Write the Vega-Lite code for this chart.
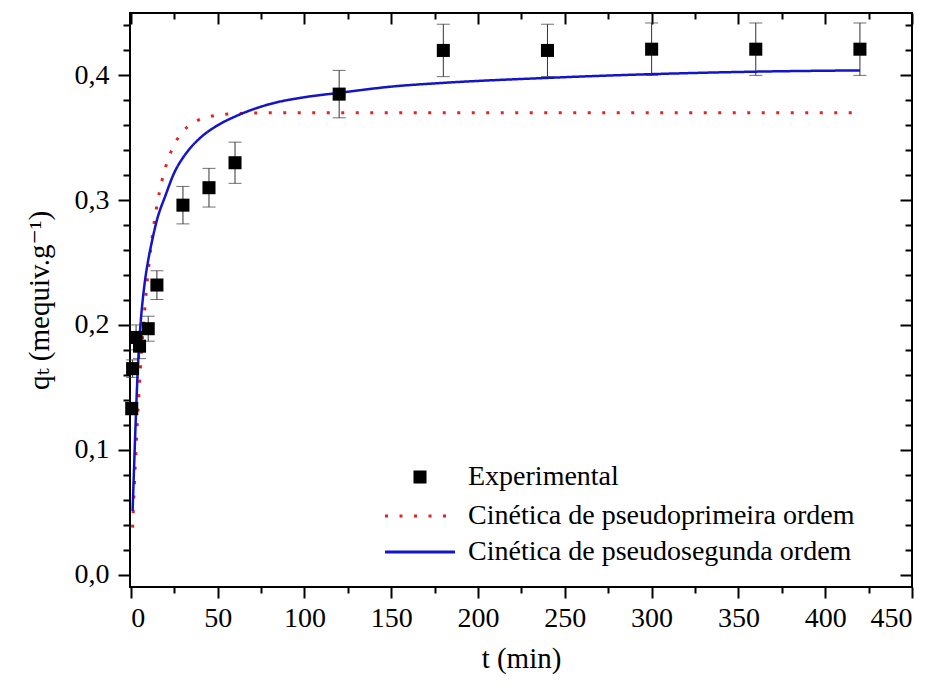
{
  "$schema": "https://vega.github.io/schema/vega-lite/v6.json",
  "width": 782,
  "height": 574,
  "autosize": {"type": "none"},
  "padding": {"left": 130, "top": 13, "right": 25, "bottom": 106},
  "background": "white",
  "config": {
    "view": {"stroke": "black", "strokeWidth": 2},
    "font": "Times New Roman, Liberation Serif, DejaVu Serif, serif",
    "axis": {"grid": false, "domain": false, "tickColor": "black", "tickWidth": 2, "labelFont": "Times New Roman, Liberation Serif, DejaVu Serif, serif", "labelFontSize": 28, "labelColor": "black", "titleFont": "Times New Roman, Liberation Serif, DejaVu Serif, serif", "titleFontSize": 29, "titleFontWeight": "normal", "titleColor": "black"},
    "legend": {"labelFont": "Times New Roman, Liberation Serif, DejaVu Serif, serif", "labelFontSize": 28, "labelColor": "black", "labelLimit": 600, "padding": 0, "rowPadding": 8, "labelOffset": 34, "symbolSize": 196, "symbolOpacity": 1}
  },
  "datasets": {
    "exp": [
      {"t": 0.5, "q": 0.133, "lo": 0.128, "hi": 0.138, "series": "Experimental"},
      {"t": 1, "q": 0.165, "lo": 0.158, "hi": 0.172, "series": "Experimental"},
      {"t": 3, "q": 0.190, "lo": 0.180, "hi": 0.200, "series": "Experimental"},
      {"t": 5, "q": 0.183, "lo": 0.173, "hi": 0.193, "series": "Experimental"},
      {"t": 10, "q": 0.197, "lo": 0.187, "hi": 0.207, "series": "Experimental"},
      {"t": 15, "q": 0.232, "lo": 0.2205, "hi": 0.2435, "series": "Experimental"},
      {"t": 30, "q": 0.296, "lo": 0.281, "hi": 0.311, "series": "Experimental"},
      {"t": 45, "q": 0.310, "lo": 0.2945, "hi": 0.3255, "series": "Experimental"},
      {"t": 60, "q": 0.330, "lo": 0.3135, "hi": 0.3465, "series": "Experimental"},
      {"t": 120, "q": 0.385, "lo": 0.366, "hi": 0.404, "series": "Experimental"},
      {"t": 180, "q": 0.420, "lo": 0.399, "hi": 0.441, "series": "Experimental"},
      {"t": 240, "q": 0.420, "lo": 0.399, "hi": 0.441, "series": "Experimental"},
      {"t": 300, "q": 0.421, "lo": 0.400, "hi": 0.442, "series": "Experimental"},
      {"t": 360, "q": 0.421, "lo": 0.400, "hi": 0.442, "series": "Experimental"},
      {"t": 420, "q": 0.421, "lo": 0.400, "hi": 0.442, "series": "Experimental"}
    ],
    "pfo": [
      {"t": 1, "q": 0.0376, "series": "Cinética de pseudoprimeira ordem"},
      {"t": 2, "q": 0.0713, "series": "Cinética de pseudoprimeira ordem"},
      {"t": 3, "q": 0.1016, "series": "Cinética de pseudoprimeira ordem"},
      {"t": 4, "q": 0.1288, "series": "Cinética de pseudoprimeira ordem"},
      {"t": 5, "q": 0.1533, "series": "Cinética de pseudoprimeira ordem"},
      {"t": 6, "q": 0.1753, "series": "Cinética de pseudoprimeira ordem"},
      {"t": 8, "q": 0.2128, "series": "Cinética de pseudoprimeira ordem"},
      {"t": 10, "q": 0.2431, "series": "Cinética de pseudoprimeira ordem"},
      {"t": 12, "q": 0.2675, "series": "Cinética de pseudoprimeira ordem"},
      {"t": 15, "q": 0.2957, "series": "Cinética de pseudoprimeira ordem"},
      {"t": 18, "q": 0.3161, "series": "Cinética de pseudoprimeira ordem"},
      {"t": 21, "q": 0.3309, "series": "Cinética de pseudoprimeira ordem"},
      {"t": 25, "q": 0.3445, "series": "Cinética de pseudoprimeira ordem"},
      {"t": 30, "q": 0.3551, "series": "Cinética de pseudoprimeira ordem"},
      {"t": 35, "q": 0.3613, "series": "Cinética de pseudoprimeira ordem"},
      {"t": 40, "q": 0.3649, "series": "Cinética de pseudoprimeira ordem"},
      {"t": 50, "q": 0.3682, "series": "Cinética de pseudoprimeira ordem"},
      {"t": 60, "q": 0.3694, "series": "Cinética de pseudoprimeira ordem"},
      {"t": 80, "q": 0.3700, "series": "Cinética de pseudoprimeira ordem"},
      {"t": 150, "q": 0.3700, "series": "Cinética de pseudoprimeira ordem"},
      {"t": 250, "q": 0.3700, "series": "Cinética de pseudoprimeira ordem"},
      {"t": 350, "q": 0.3700, "series": "Cinética de pseudoprimeira ordem"},
      {"t": 420, "q": 0.3700, "series": "Cinética de pseudoprimeira ordem"}
    ],
    "pso": [
      {"t": 1, "q": 0.051, "series": "Cinética de pseudosegunda ordem"},
      {"t": 2, "q": 0.092, "series": "Cinética de pseudosegunda ordem"},
      {"t": 3, "q": 0.131, "series": "Cinética de pseudosegunda ordem"},
      {"t": 4, "q": 0.165, "series": "Cinética de pseudosegunda ordem"},
      {"t": 5, "q": 0.190, "series": "Cinética de pseudosegunda ordem"},
      {"t": 6, "q": 0.208, "series": "Cinética de pseudosegunda ordem"},
      {"t": 8, "q": 0.234, "series": "Cinética de pseudosegunda ordem"},
      {"t": 10, "q": 0.252, "series": "Cinética de pseudosegunda ordem"},
      {"t": 12, "q": 0.266, "series": "Cinética de pseudosegunda ordem"},
      {"t": 15, "q": 0.284, "series": "Cinética de pseudosegunda ordem"},
      {"t": 20, "q": 0.304, "series": "Cinética de pseudosegunda ordem"},
      {"t": 25, "q": 0.322, "series": "Cinética de pseudosegunda ordem"},
      {"t": 30, "q": 0.334, "series": "Cinética de pseudosegunda ordem"},
      {"t": 35, "q": 0.343, "series": "Cinética de pseudosegunda ordem"},
      {"t": 40, "q": 0.350, "series": "Cinética de pseudosegunda ordem"},
      {"t": 50, "q": 0.360, "series": "Cinética de pseudosegunda ordem"},
      {"t": 60, "q": 0.367, "series": "Cinética de pseudosegunda ordem"},
      {"t": 80, "q": 0.377, "series": "Cinética de pseudosegunda ordem"},
      {"t": 100, "q": 0.3825, "series": "Cinética de pseudosegunda ordem"},
      {"t": 120, "q": 0.386, "series": "Cinética de pseudosegunda ordem"},
      {"t": 150, "q": 0.391, "series": "Cinética de pseudosegunda ordem"},
      {"t": 180, "q": 0.394, "series": "Cinética de pseudosegunda ordem"},
      {"t": 240, "q": 0.398, "series": "Cinética de pseudosegunda ordem"},
      {"t": 300, "q": 0.401, "series": "Cinética de pseudosegunda ordem"},
      {"t": 360, "q": 0.403, "series": "Cinética de pseudosegunda ordem"},
      {"t": 420, "q": 0.404, "series": "Cinética de pseudosegunda ordem"}
    ]
  },
  "resolve": {"axis": {"x": "independent", "y": "independent"}},
  "layer": [
    {
      "data": {"name": "exp"},
      "mark": {"type": "rule", "color": "#333333", "strokeWidth": 1},
      "encoding": {
        "x": {"field": "t", "type": "quantitative", "scale": {"domain": [-0.5, 450], "nice": false, "zero": false},
          "axis": {"orient": "bottom", "values": [0, 25, 50, 75, 100, 125, 150, 175, 200, 225, 250, 275, 300, 325, 350, 375, 400, 425, 450],
            "tickSize": {"condition": {"test": "indexof([0, 50, 100, 150, 200, 250, 300, 350, 400, 450], datum.value) >= 0", "value": 11}, "value": 6},
            "labelExpr": "indexof([0, 50, 100, 150, 200, 250, 300, 350, 400, 450], datum.value) >= 0 ? datum.label : ''", "labelPadding": 6, "title": "t (min)", "titlePadding": 12}},
        "y": {"field": "lo", "type": "quantitative", "scale": {"domain": [-0.01, 0.45], "nice": false, "zero": false},
          "axis": {"orient": "left", "values": [0, 0.02, 0.04, 0.06, 0.08, 0.1, 0.12, 0.14, 0.16, 0.18, 0.2, 0.22, 0.24, 0.26, 0.28, 0.3, 0.32, 0.34, 0.36, 0.38, 0.4, 0.42, 0.44],
            "tickSize": {"condition": {"test": "indexof([0, 0.1, 0.2, 0.3, 0.4], datum.value) >= 0", "value": 12}, "value": 7},
            "labelPadding": 9, "labelExpr": "indexof([0, 0.1, 0.2, 0.3, 0.4], datum.value) >= 0 ? replace(format(datum.value, '.1f'), '.', ',') : ''", "title": "qₜ (mequiv.g⁻¹)", "titlePadding": 20}},
        "y2": {"field": "hi"}
      }
    },
    {
      "data": {"name": "exp"},
      "mark": {"type": "tick", "orient": "horizontal", "color": "#333333", "size": 13, "thickness": 1},
      "encoding": {
        "x": {"field": "t", "type": "quantitative", "scale": {"domain": [-0.5, 450], "nice": false, "zero": false},
          "axis": {"orient": "top", "values": [0, 25, 50, 75, 100, 125, 150, 175, 200, 225, 250, 275, 300, 325, 350, 375, 400, 425, 450],
            "tickSize": {"condition": {"test": "indexof([0, 50, 100, 150, 200, 250, 300, 350, 400, 450], datum.value) >= 0", "value": -11}, "value": -6}, "labels": false, "title": null}},
        "y": {"field": "hi", "type": "quantitative", "scale": {"domain": [-0.01, 0.45], "nice": false, "zero": false},
          "axis": {"orient": "right", "values": [0, 0.02, 0.04, 0.06, 0.08, 0.1, 0.12, 0.14, 0.16, 0.18, 0.2, 0.22, 0.24, 0.26, 0.28, 0.3, 0.32, 0.34, 0.36, 0.38, 0.4, 0.42, 0.44],
            "tickSize": {"condition": {"test": "indexof([0, 0.1, 0.2, 0.3, 0.4], datum.value) >= 0", "value": -12}, "value": -7}, "labels": false, "title": null}}
      }
    },
    {
      "data": {"name": "exp"},
      "mark": {"type": "tick", "orient": "horizontal", "color": "#333333", "size": 13, "thickness": 1},
      "encoding": {
        "x": {"field": "t", "type": "quantitative", "scale": {"domain": [-0.5, 450], "nice": false, "zero": false},
          "axis": {"orient": "top", "ticks": false, "labels": false, "domain": false, "title": null, "values": [0]}},
        "y": {"field": "lo", "type": "quantitative", "scale": {"domain": [-0.01, 0.45], "nice": false, "zero": false},
          "axis": {"orient": "right", "ticks": false, "labels": false, "domain": false, "title": null, "values": [0]}}
      }
    },
    {
      "data": {"name": "pfo"},
      "mark": {"type": "line", "strokeWidth": 3, "interpolate": "monotone"},
      "encoding": {
        "x": {"field": "t", "type": "quantitative", "scale": {"domain": [-0.5, 450], "nice": false, "zero": false},
          "axis": {"orient": "top", "ticks": false, "labels": false, "domain": false, "title": null, "values": [0]}},
        "y": {"field": "q", "type": "quantitative", "scale": {"domain": [-0.01, 0.45], "nice": false, "zero": false},
          "axis": {"orient": "right", "ticks": false, "labels": false, "domain": false, "title": null, "values": [0]}},
        "color": {"field": "series", "type": "nominal",
          "scale": {"domain": ["Cinética de pseudoprimeira ordem", "Cinética de pseudosegunda ordem"], "range": ["#e02424", "#1414c8"]},
          "legend": {"orient": "none", "legendX": 276, "legendY": 489, "title": null, "symbolType": "M-5,0H5", "symbolStrokeWidth": 3}},
        "strokeDash": {"field": "series", "type": "nominal",
          "scale": {"domain": ["Cinética de pseudoprimeira ordem", "Cinética de pseudosegunda ordem"], "range": [[3, 11.5], [1, 0]]},
          "legend": {"orient": "none", "legendX": 276, "legendY": 489, "title": null, "symbolType": "M-5,0H5", "symbolStrokeWidth": 3}}
      }
    },
    {
      "data": {"name": "pso"},
      "mark": {"type": "line", "strokeWidth": 2.5, "interpolate": "monotone"},
      "encoding": {
        "x": {"field": "t", "type": "quantitative", "scale": {"domain": [-0.5, 450], "nice": false, "zero": false},
          "axis": {"orient": "top", "ticks": false, "labels": false, "domain": false, "title": null, "values": [0]}},
        "y": {"field": "q", "type": "quantitative", "scale": {"domain": [-0.01, 0.45], "nice": false, "zero": false},
          "axis": {"orient": "right", "ticks": false, "labels": false, "domain": false, "title": null, "values": [0]}},
        "color": {"field": "series", "type": "nominal",
          "scale": {"domain": ["Cinética de pseudoprimeira ordem", "Cinética de pseudosegunda ordem"], "range": ["#e02424", "#1414c8"]},
          "legend": {"orient": "none", "legendX": 276, "legendY": 489, "title": null, "symbolType": "M-5,0H5", "symbolStrokeWidth": 3}},
        "strokeDash": {"field": "series", "type": "nominal",
          "scale": {"domain": ["Cinética de pseudoprimeira ordem", "Cinética de pseudosegunda ordem"], "range": [[3, 11.5], [1, 0]]},
          "legend": {"orient": "none", "legendX": 276, "legendY": 489, "title": null, "symbolType": "M-5,0H5", "symbolStrokeWidth": 3}}
      }
    },
    {
      "data": {"name": "exp"},
      "mark": {"type": "point", "filled": true, "size": 170, "opacity": 1, "color": "black"},
      "encoding": {
        "x": {"field": "t", "type": "quantitative", "scale": {"domain": [-0.5, 450], "nice": false, "zero": false},
          "axis": {"orient": "top", "ticks": false, "labels": false, "domain": false, "title": null, "values": [0]}},
        "y": {"field": "q", "type": "quantitative", "scale": {"domain": [-0.01, 0.45], "nice": false, "zero": false},
          "axis": {"orient": "right", "ticks": false, "labels": false, "domain": false, "title": null, "values": [0]}},
        "shape": {"field": "series", "type": "nominal",
          "scale": {"domain": ["Experimental"], "range": ["square"]},
          "legend": {"orient": "none", "legendX": 276, "legendY": 450, "title": null, "symbolFillColor": "black", "symbolStrokeColor": "black", "symbolStrokeWidth": 0, "symbolSize": 170}}
      }
    }
  ]
}
